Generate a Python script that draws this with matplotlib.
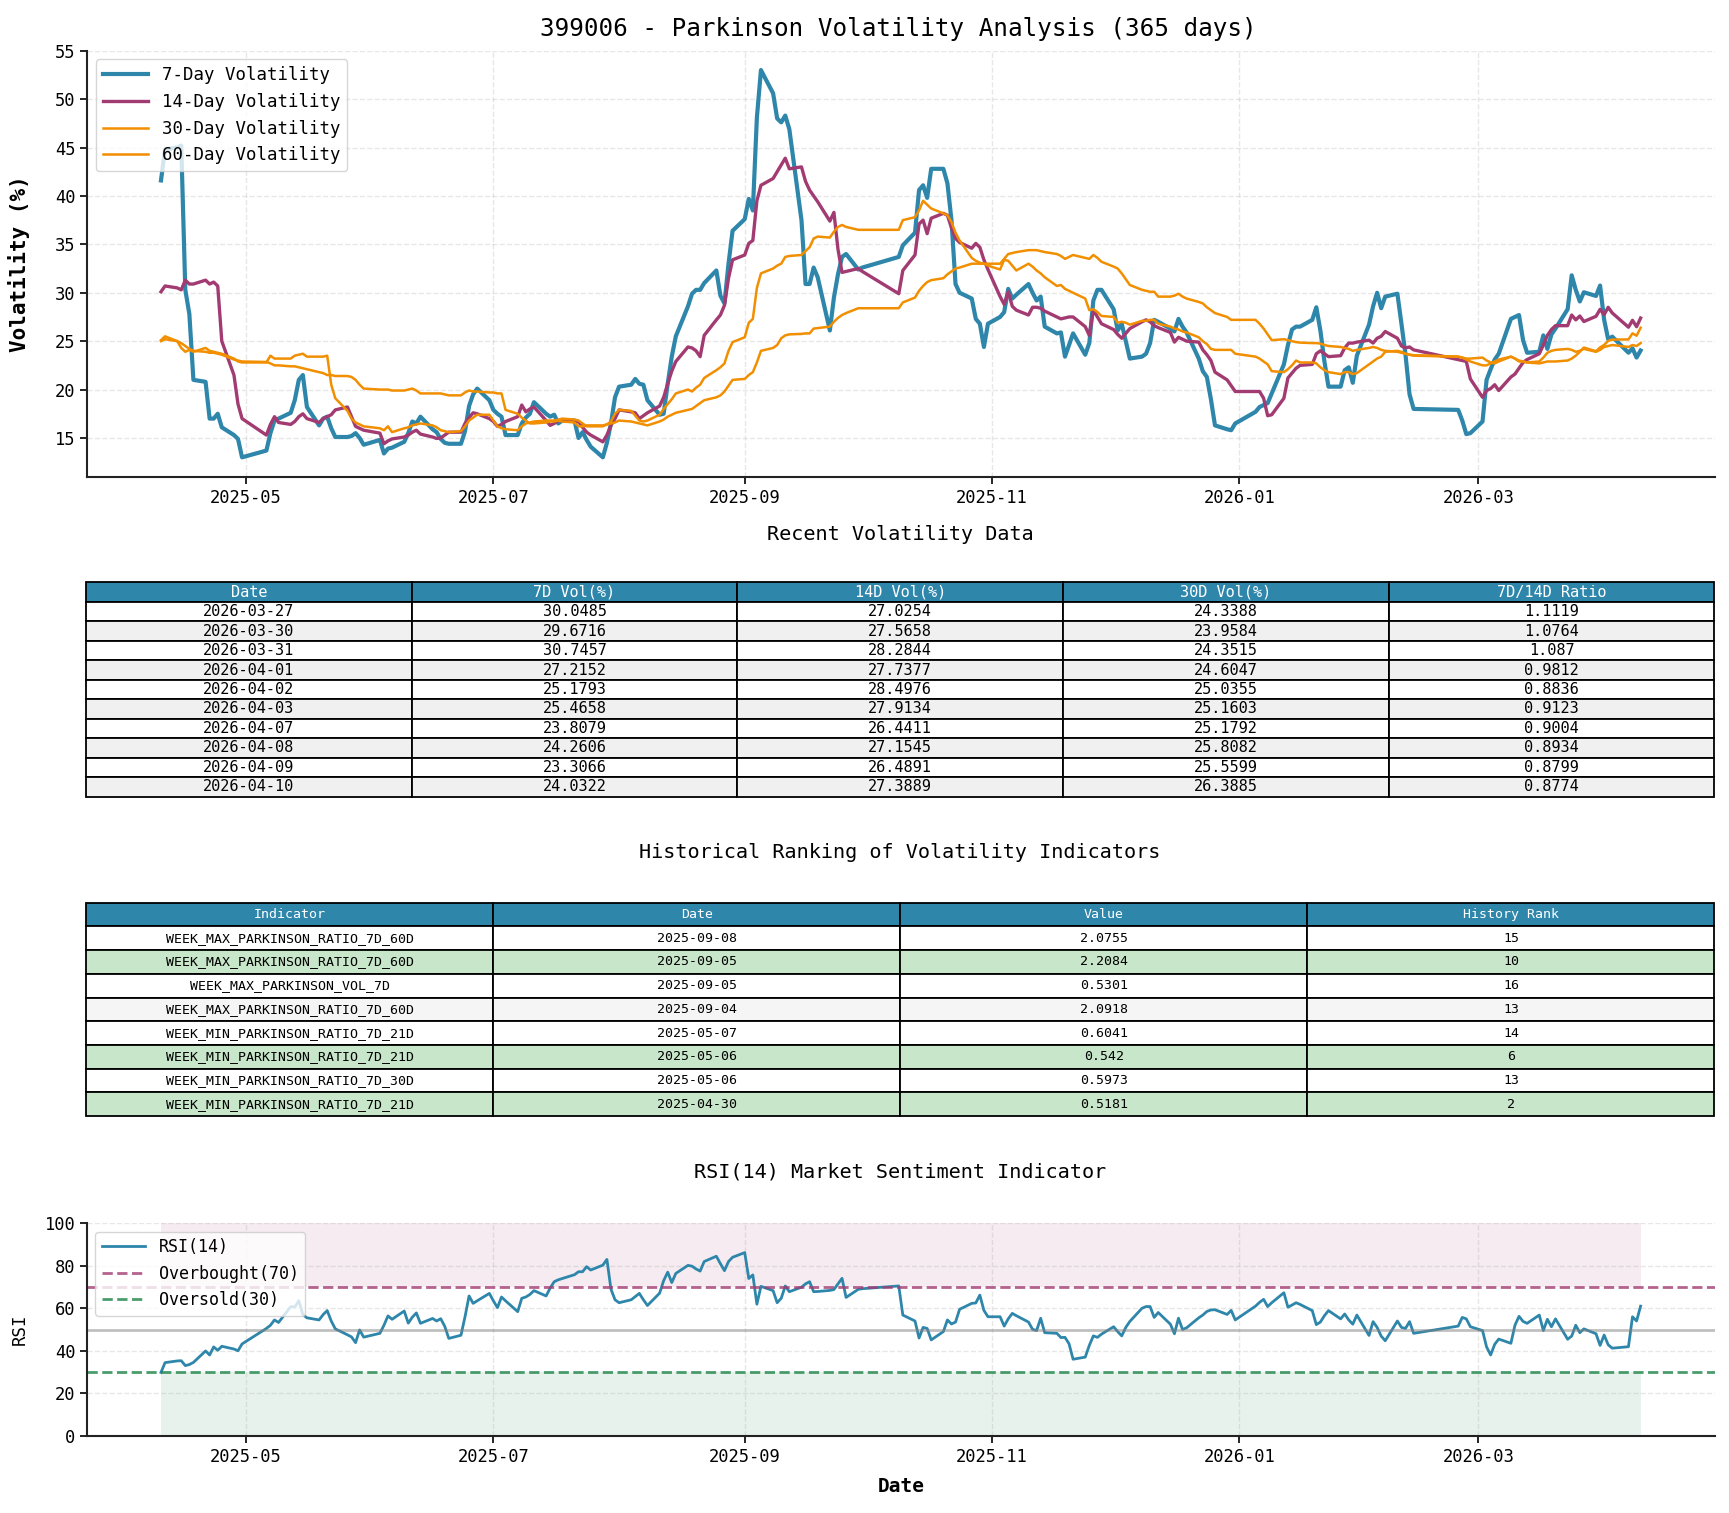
import matplotlib
matplotlib.use("Agg")
import matplotlib.pyplot as plt
import matplotlib.dates as mdates
import pandas as pd

plt.rcParams['font.family'] = ['DejaVu Sans Mono', 'DejaVu Sans']

# ---------------- trading calendar ----------------
holidays = ['2025-05-01', '2025-05-02', '2025-05-05', '2025-06-02',
            '2025-10-01', '2025-10-02', '2025-10-03', '2025-10-06', '2025-10-07', '2025-10-08',
            '2026-01-01', '2026-01-02',
            '2026-02-16', '2026-02-17', '2026-02-18', '2026-02-19', '2026-02-20', '2026-02-23',
            '2026-04-06']
dates = pd.bdate_range('2025-04-10', '2026-04-10', freq='C', holidays=holidays)

# ---------------- series (one value per trading day, grouped by month) ----------------
vol_7d = [
    41.6, 44.8, 45.0, 45.2, 30.3, 27.8, 21.0, 20.8, 17.0, 17.0, 17.5, 16.1, 15.3, 14.9, 13.0,            # Apr
    13.7, 15.5, 16.8, 17.0, 17.6, 18.9, 21.0, 21.5, 18.2, 16.3, 17.0, 17.2, 16.0, 15.1, 15.1, 15.2, 15.5, 15.0, 14.3,  # May
    14.8, 13.4, 13.9, 14.0, 14.6, 15.5, 16.7, 16.5, 17.2, 15.9, 15.6, 14.9, 14.5, 14.4, 14.4, 15.7, 18.3, 19.5, 20.1, 18.9,  # Jun
    17.9, 17.5, 17.2, 15.3, 15.3, 16.5, 17.1, 17.5, 18.7, 17.5, 17.2, 17.4, 16.5, 16.8, 16.8, 15.0, 15.6, 14.8, 14.1, 13.0, 14.5, 16.5, 19.2,  # Jul
    20.3, 20.5, 21.1, 20.6, 20.5, 18.9, 17.4, 17.5, 20.6, 23.4, 25.5, 28.6, 29.9, 30.3, 30.3, 31.0, 32.3, 29.7, 28.9, 33.0, 36.4,  # Aug
    37.6, 39.7, 38.5, 48.1, 53.0, 50.6, 48.0, 47.6, 48.3, 46.9, 37.5, 30.9, 30.9, 32.6, 31.6, 26.1, 29.5, 31.9, 33.7, 34.0, 32.4, 32.6,  # Sep
    33.7, 34.9, 36.2, 40.6, 41.1, 39.8, 42.8, 42.8, 41.3, 37.5, 30.9, 30.0, 29.4, 27.3, 26.8, 24.4, 26.8,  # Oct
    27.5, 28.0, 30.4, 29.4, 29.8, 30.9, 30.0, 29.2, 29.6, 26.5, 25.8, 25.9, 23.4, 24.6, 25.8, 23.6, 24.8, 29.2, 30.3, 30.3,  # Nov
    28.3, 26.1, 26.8, 25.0, 23.2, 23.4, 23.7, 24.8, 27.2, 27.0, 26.3, 26.0, 27.3, 26.5, 25.9, 23.2, 21.9, 21.3, 19.0, 16.3, 15.9, 15.8, 16.5,  # Dec
    17.7, 18.2, 18.4, 18.6, 19.6, 22.6, 24.6, 26.2, 26.5, 26.5, 27.2, 28.5, 26.1, 22.9, 20.3, 20.3, 22.0, 22.3, 20.7, 23.5,  # Jan
    26.7, 28.6, 30.0, 28.4, 29.6, 29.9, 26.8, 23.6, 19.5, 18.0, 17.9, 16.8, 15.4, 15.5,  # Feb
    16.7, 21.0, 22.1, 23.1, 23.7, 27.3, 27.5, 27.7, 25.1, 23.8, 23.9, 25.6, 24.2, 25.7, 26.3, 28.3, 31.8, 30.3, 29.1, 30.0485, 29.6716, 30.7457,  # Mar
    27.2152, 25.1793, 25.4658, 23.8079, 24.2606, 23.3066, 24.0322,  # Apr
]
vol_14d = [
    30.1, 30.7, 30.5, 30.3, 31.3, 30.9, 30.9, 31.3, 30.9, 31.1, 30.7, 25.0, 21.5, 18.5, 17.0,
    15.3, 16.4, 17.2, 16.6, 16.4, 16.7, 17.2, 17.5, 17.0, 16.6, 17.0, 17.2, 17.4, 17.9, 18.2, 17.2, 16.2, 16.0, 15.8,
    15.5, 14.4, 14.7, 14.9, 15.1, 15.3, 15.6, 15.8, 15.4, 15.1, 14.95, 15.0, 15.3, 15.6, 15.6, 16.5, 17.1, 17.6, 17.5, 17.0,
    16.7, 16.2, 16.4, 16.7, 17.2, 18.4, 17.7, 18.0, 18.2, 16.8, 16.3, 16.5, 16.8, 16.8, 16.7, 16.7, 16.1, 15.6, 15.3, 14.6, 15.3, 16.3, 17.0,
    17.9, 17.7, 17.6, 17.0, 17.3, 17.6, 18.3, 19.2, 20.6, 21.9, 22.9, 24.4, 24.3, 24.0, 23.4, 25.6, 27.2, 27.7, 28.7, 31.5, 33.4,
    33.9, 35.1, 35.4, 39.5, 41.1, 41.8, 42.5, 43.2, 43.9, 42.8, 43.0, 41.5, 40.6, 40.0, 39.4, 37.4, 38.3, 34.5, 32.1, 32.2, 32.5, 32.2,
    29.9, 32.3, 33.9, 37.1, 37.5, 36.1, 37.7, 38.2, 38.0, 36.7, 35.6, 35.2, 34.6, 35.1, 34.7, 33.4, 32.4,
    29.6, 28.8, 30.1, 28.6, 28.2, 27.7, 28.5, 28.5, 28.4, 28.1, 27.5, 27.3, 27.4, 27.5, 27.5, 26.5, 25.6, 28.2, 27.5, 26.8,
    26.2, 25.7, 25.3, 25.8, 26.3, 27.0, 27.2, 27.0, 26.6, 26.4, 25.9, 24.9, 25.4, 25.2, 25.0, 24.9, 24.1, 23.6, 23.0, 21.8, 21.0, 20.4, 19.8,
    19.8, 19.8, 19.1, 17.3, 17.4, 19.1, 21.2, 21.7, 22.2, 22.5, 22.6, 23.7, 24.0, 23.7, 23.4, 23.5, 24.3, 24.8, 24.8, 24.9,
    25.1, 24.8, 25.3, 25.5, 26.0, 25.3, 24.5, 24.3, 24.4, 24.1, 23.1, 23.0, 22.9, 21.1,
    19.2, 19.9, 20.1, 20.5, 19.9, 21.3, 21.6, 22.2, 22.8, 23.1, 23.7, 24.6, 25.6, 26.2, 26.6, 26.6, 27.7, 27.2, 27.6, 27.0254, 27.5658, 28.2844,
    27.7377, 28.4976, 27.9134, 26.4411, 27.1545, 26.4891, 27.3889,
]
vol_30d = [
    25.1, 25.5, 25.0, 24.3, 23.9, 24.1, 23.9, 24.3, 24.0, 23.9, 23.8, 23.7, 23.2, 22.9, 22.8,
    22.8, 23.5, 23.2, 23.2, 23.2, 23.5, 23.6, 23.7, 23.4, 23.4, 23.4, 23.5, 20.5, 19.1, 17.8, 17.0, 16.6, 16.4, 16.2,
    16.0, 15.8, 16.2, 15.6, 16.0, 16.1, 16.3, 16.4, 16.5, 16.3, 16.1, 15.8, 15.7, 15.6, 15.7, 16.2, 16.8, 17.1, 17.4, 17.4,
    16.8, 16.2, 16.0, 15.9, 15.8, 16.2, 16.5, 16.6, 16.7, 16.8, 16.8, 16.8, 16.9, 17.0, 16.9, 16.8, 16.5, 16.2, 16.2, 16.2, 16.4, 16.7, 17.5,
    17.9, 17.8, 17.3, 16.8, 16.7, 16.8, 17.4, 18.0, 18.5, 19.0, 19.6, 20.0, 19.8, 20.2, 20.5, 21.2, 22.0, 22.3, 22.7, 24.0, 24.9,
    25.4, 26.9, 27.3, 30.5, 32.0, 32.5, 32.8, 33.0, 33.7, 33.8, 33.9, 34.3, 34.7, 35.6, 35.8, 35.7, 36.3, 36.8, 37.0, 36.8, 36.5, 36.5,
    36.5, 37.5, 37.8, 38.5, 39.5, 39.1, 38.7, 38.2, 38.0, 37.3, 36.2, 35.4, 33.6, 33.3, 33.1, 33.0, 33.0,
    33.0, 33.5, 34.0, 34.1, 34.2, 34.4, 34.4, 34.4, 34.3, 34.2, 34.0, 33.8, 33.5, 33.7, 33.9, 33.6, 33.5, 33.9, 33.6, 33.2,
    32.7, 32.5, 32.0, 31.4, 30.8, 30.3, 30.2, 30.1, 30.1, 29.6, 29.6, 29.7, 29.9, 29.6, 29.4, 29.05, 28.9, 28.5, 28.2, 27.9, 27.5, 27.2, 27.2,
    27.2, 26.8, 26.3, 25.7, 25.1, 25.2, 25.1, 25.0, 24.9, 24.85, 24.8, 24.8, 24.75, 24.6, 24.5, 24.4, 24.3, 24.2, 24.0, 24.1,
    24.3, 24.4, 24.3, 24.1, 24.0, 23.9, 23.8, 23.7, 23.6, 23.5, 23.4, 23.3, 23.2, 23.2,
    23.3, 23.0, 22.8, 22.7, 22.9, 23.4, 23.2, 23.0, 22.9, 22.8, 22.7, 22.8, 22.9, 22.9, 22.9, 23.0, 23.2, 23.5, 23.9, 24.3388, 23.9584, 24.3515,
    24.6047, 25.0355, 25.1603, 25.1792, 25.8082, 25.5599, 26.3885,
]
vol_60d = [
    25.0, 25.2, 25.0, 24.8, 24.5, 24.2, 24.0, 23.9, 23.8, 23.8, 23.7, 23.6, 23.1, 23.0, 22.9,
    22.85, 22.7, 22.5, 22.5, 22.4, 22.4, 22.3, 22.2, 22.1, 21.8, 21.7, 21.5, 21.5, 21.4, 21.4, 21.3, 21.0, 20.5, 20.1,
    20.0, 20.0, 20.0, 19.9, 19.9, 20.0, 20.1, 19.9, 19.6, 19.6, 19.6, 19.6, 19.5, 19.4, 19.4, 19.7, 19.9, 19.8, 19.8, 19.7,
    19.7, 19.6, 19.6, 17.9, 17.5, 17.1, 16.8, 16.5, 16.5, 16.6, 16.7, 16.7, 16.8, 16.7, 16.6, 16.2, 16.2, 16.3, 16.3, 16.3, 16.4, 16.5, 16.6,
    16.8, 16.7, 16.6, 16.5, 16.4, 16.3, 16.7, 16.9, 17.2, 17.4, 17.6, 17.9, 18.0, 18.3, 18.6, 18.9, 19.2, 19.4, 19.8, 20.4, 21.0,
    21.1, 21.5, 21.8, 22.8, 24.0, 24.3, 24.6, 25.3, 25.6, 25.7, 25.75, 25.8, 25.8, 26.3, 26.35, 26.5, 27.0, 27.4, 27.7, 27.9, 28.4, 28.4,
    28.4, 29.0, 29.5, 30.2, 30.7, 31.1, 31.3, 31.5, 31.9, 32.2, 32.5, 32.6, 33.0, 33.0, 33.0, 33.0, 32.8,
    32.4, 33.4, 33.3, 32.8, 32.3, 33.0, 32.7, 32.3, 32.0, 31.6, 30.7, 30.8, 30.4, 30.2, 30.0, 29.4, 28.2, 28.3, 28.0, 27.6,
    27.5, 26.9, 27.0, 26.9, 26.7, 27.1, 27.1, 27.2, 27.2, 26.8, 26.5, 26.3, 26.2, 26.0, 25.9, 25.4, 25.0, 24.7, 24.2, 24.1, 24.1, 24.1, 23.7,
    23.4, 23.2, 22.9, 22.6, 21.9, 21.8, 22.1, 22.5, 23.0, 22.8, 22.8, 22.7, 22.3, 22.0, 21.8, 21.6, 21.8, 21.8, 21.6, 21.7,
    22.6, 22.9, 23.2, 23.4, 23.9, 24.0, 23.9, 23.7, 23.6, 23.55, 23.4, 23.3, 23.1, 22.9,
    22.5, 22.5, 22.7, 22.9, 23.1, 23.4, 23.2, 22.9, 22.9, 22.8, 22.9, 23.3, 23.8, 24.0, 24.1, 24.2, 24.1, 23.9, 24.0, 24.2, 23.9, 24.1,
    24.4, 24.5, 24.6, 24.4, 24.6, 24.5, 24.8,
]
rsi_14 = [
    29.8, 34.4, 35.2, 35.3, 33.0, 33.5, 34.5, 39.9, 38.0, 41.8, 40.2, 42.1, 40.8, 40.0, 43.2,
    50.5, 52.0, 54.5, 53.3, 60.8, 60.5, 63.6, 57.0, 55.5, 54.5, 57.0, 58.9, 54.0, 50.3, 47.5, 46.5, 43.8, 49.8, 46.4,
    48.2, 52.0, 56.4, 54.8, 58.7, 53.0, 55.8, 57.8, 52.9, 55.2, 54.0, 55.1, 51.5, 45.8, 47.3, 56.0, 65.8, 62.3, 63.5, 67.0,
    63.5, 60.3, 65.3, 63.5, 58.4, 64.7, 65.3, 66.5, 68.3, 65.8, 69.5, 72.5, 73.4, 74.0, 75.8, 77.2, 77.2, 79.6, 78.0, 80.3, 83.0, 69.0, 64.0,
    62.6, 64.0, 65.5, 67.0, 64.0, 61.3, 67.1, 73.0, 77.0, 72.1, 76.4, 80.2, 79.8, 78.5, 77.5, 82.0, 84.5, 81.0, 77.7, 82.0, 84.0,
    86.2, 74.0, 75.7, 61.9, 70.3, 68.3, 62.6, 64.7, 70.5, 67.8, 69.9, 71.5, 72.5, 67.8, 67.9, 68.4, 68.8, 71.5, 74.1, 65.1, 68.9, 69.2,
    70.5, 56.8, 54.0, 46.0, 51.0, 50.5, 45.1, 49.0, 54.5, 52.6, 53.5, 59.5, 62.3, 62.5, 66.2, 59.0, 56.0,
    56.0, 51.6, 55.0, 57.6, 56.5, 53.5, 50.1, 49.5, 55.3, 48.5, 48.2, 46.2, 46.3, 43.3, 36.0, 37.0, 42.5, 47.0, 46.3, 47.8,
    51.3, 49.0, 47.0, 51.0, 53.8, 60.0, 60.8, 60.8, 55.7, 58.0, 52.5, 48.0, 55.3, 50.0, 50.8, 55.5, 56.8, 58.5, 59.2, 59.3, 57.1, 59.0, 54.5,
    61.0, 62.8, 64.2, 60.8, 62.6, 67.3, 60.5, 61.5, 62.6, 61.8, 58.9, 52.3, 53.5, 56.5, 58.9, 55.0, 57.3, 54.5, 52.5, 56.8,
    47.2, 53.7, 51.0, 46.9, 44.7, 54.0, 51.0, 50.5, 53.7, 48.2, 51.6, 55.7, 55.0, 51.3,
    49.5, 41.8, 38.0, 43.0, 45.5, 43.5, 52.0, 56.2, 53.8, 52.9, 56.8, 49.5, 54.8, 51.3, 55.0, 45.4, 46.9, 52.0, 48.5, 50.3, 48.0, 42.5,
    47.4, 42.8, 41.2, 41.9, 56.0, 54.0, 61.0,
]

# ---------------- ranking table ----------------
rank_indicators = ['WEEK_MAX_PARKINSON_RATIO_7D_60D', 'WEEK_MAX_PARKINSON_RATIO_7D_60D',
                   'WEEK_MAX_PARKINSON_VOL_7D', 'WEEK_MAX_PARKINSON_RATIO_7D_60D',
                   'WEEK_MIN_PARKINSON_RATIO_7D_21D', 'WEEK_MIN_PARKINSON_RATIO_7D_21D',
                   'WEEK_MIN_PARKINSON_RATIO_7D_30D', 'WEEK_MIN_PARKINSON_RATIO_7D_21D']
rank_dates = ['2025-09-08', '2025-09-05', '2025-09-05', '2025-09-04',
              '2025-05-07', '2025-05-06', '2025-05-06', '2025-04-30']
rank_values = ['2.0755', '2.2084', '0.5301', '2.0918', '0.6041', '0.542', '0.5973', '0.5181']
rank_history = [15, 10, 16, 13, 14, 6, 13, 2]

# ---------------- figure ----------------
W, H = 1729, 1513
fig = plt.figure(figsize=(W / 100, H / 100), dpi=100)

def fx(px):
    return px / W

def fy(py):
    return 1 - py / H

C7, C14, C30, C60 = '#2E86AB', '#A23B72', '#F18F01', '#F18F01'
GREEN = '#1E8449'

def style_axes(ax):
    for s in ['top', 'right']:
        ax.spines[s].set_visible(False)
    for s in ['left', 'bottom']:
        ax.spines[s].set_linewidth(1.5)
        ax.spines[s].set_color('#222222')
    ax.grid(True, linestyle='--', alpha=0.3, linewidth=1.0)
    ax.tick_params(labelsize=12.3, width=1.2, length=5)
    ax.xaxis.set_major_locator(mdates.MonthLocator(bymonth=[1, 3, 5, 7, 9, 11]))
    ax.xaxis.set_major_formatter(mdates.DateFormatter('%Y-%m'))

# --- volatility chart ---
ax1 = fig.add_axes([fx(87), fy(476.7), fx(1714.6 - 87), (476.7 - 50.7) / H])
ax1.plot(dates, vol_7d, color=C7, lw=3.0, label='7-Day Volatility')
ax1.plot(dates, vol_14d, color=C14, lw=2.4, label='14-Day Volatility')
ax1.plot(dates, vol_30d, color=C30, lw=1.8, label='30-Day Volatility')
ax1.plot(dates, vol_60d, color=C60, lw=1.8, label='60-Day Volatility')
style_axes(ax1)
ax1.set_ylabel('Volatility (%)', fontsize=15, fontweight='bold')
ax1.yaxis.set_label_coords(-0.035, 0.5)
ax1.legend(loc='upper left', fontsize=12.5, handlelength=2.6)
fig.text(fx(898), fy(28.7), '399006 - Parkinson Volatility Analysis (365 days)',
         ha='center', va='center', fontsize=17.5)

# --- recent data table ---
fig.text(fx(900), fy(534), 'Recent Volatility Data', ha='center', va='center', fontsize=14.5)
axt1 = fig.add_axes([fx(86), fy(796.7), fx(1714.5 - 86), (796.7 - 582.3) / H])
axt1.axis('off')
recent_cols = ['Date', '7D Vol(%)', '14D Vol(%)', '30D Vol(%)', '7D/14D Ratio']
recent_rows = []
for i in range(len(dates) - 10, len(dates)):
    recent_rows.append([dates[i].strftime('%Y-%m-%d'), f'{vol_7d[i]:.4f}', f'{vol_14d[i]:.4f}',
                        f'{vol_30d[i]:.4f}', str(round(vol_7d[i] / vol_14d[i], 4))])
t1 = axt1.table(cellText=recent_rows, colLabels=recent_cols, cellLoc='center', bbox=[0, 0, 1, 1])
t1.auto_set_font_size(False)
t1.set_fontsize(11)
for (r, c), cell in t1.get_celld().items():
    cell.set_edgecolor('black')
    cell.set_linewidth(1.3)
    if r == 0:
        cell.set_facecolor(C7)
        cell.get_text().set_color('white')
    else:
        cell.set_facecolor('white' if r % 2 == 1 else '#F0F0F0')

# --- ranking table ---
fig.text(fx(900), fy(853), 'Historical Ranking of Volatility Indicators', ha='center', va='center', fontsize=14.5)
axt2 = fig.add_axes([fx(86), fy(1116), fx(1714.5 - 86), (1116 - 902.7) / H])
axt2.axis('off')
rank_rows = [[a, b, c, str(d)] for a, b, c, d in zip(rank_indicators, rank_dates, rank_values, rank_history)]
t2 = axt2.table(cellText=rank_rows, colLabels=['Indicator', 'Date', 'Value', 'History Rank'],
                cellLoc='center', bbox=[0, 0, 1, 1])
t2.auto_set_font_size(False)
t2.set_fontsize(9.5)
for (r, c), cell in t2.get_celld().items():
    cell.set_edgecolor('black')
    cell.set_linewidth(1.3)
    if r == 0:
        cell.set_facecolor(C7)
        cell.get_text().set_color('white')
    else:
        if rank_history[r - 1] <= 10:
            cell.set_facecolor('#C8E6C9')
        else:
            cell.set_facecolor('white' if r % 2 == 1 else '#F5F5F5')

# --- RSI chart ---
fig.text(fx(900), fy(1172), 'RSI(14) Market Sentiment Indicator', ha='center', va='center', fontsize=14.5)
ax3 = fig.add_axes([fx(87), fy(1435.7), fx(1714.6 - 87), (1435.7 - 1223.3) / H])
ax3.fill_between(dates, 70, 100, color=C14, alpha=0.1, lw=0)
ax3.fill_between(dates, 0, 30, color=GREEN, alpha=0.1, lw=0)
ax3.plot(dates, rsi_14, color=C7, lw=2, label='RSI(14)')
ax3.axhline(70, color=C14, ls='--', lw=2, alpha=0.8, label='Overbought(70)')
ax3.axhline(30, color=GREEN, ls='--', lw=2, alpha=0.8, label='Oversold(30)')
ax3.axhline(50, color='gray', lw=2, alpha=0.5)
style_axes(ax3)
ax3.set_ylim(0, 100)
ax3.set_yticks([0, 20, 40, 60, 80, 100])
ax3.set_xlim(ax1.get_xlim())
ax3.set_ylabel('RSI', fontsize=12.5)
ax3.yaxis.set_label_coords(-0.036, 0.5)
ax3.set_xlabel('Date', fontsize=14, fontweight='bold', labelpad=8)
ax3.legend(loc='upper left', fontsize=12, handlelength=2.6)

fig.savefig('out.png', dpi=100)
